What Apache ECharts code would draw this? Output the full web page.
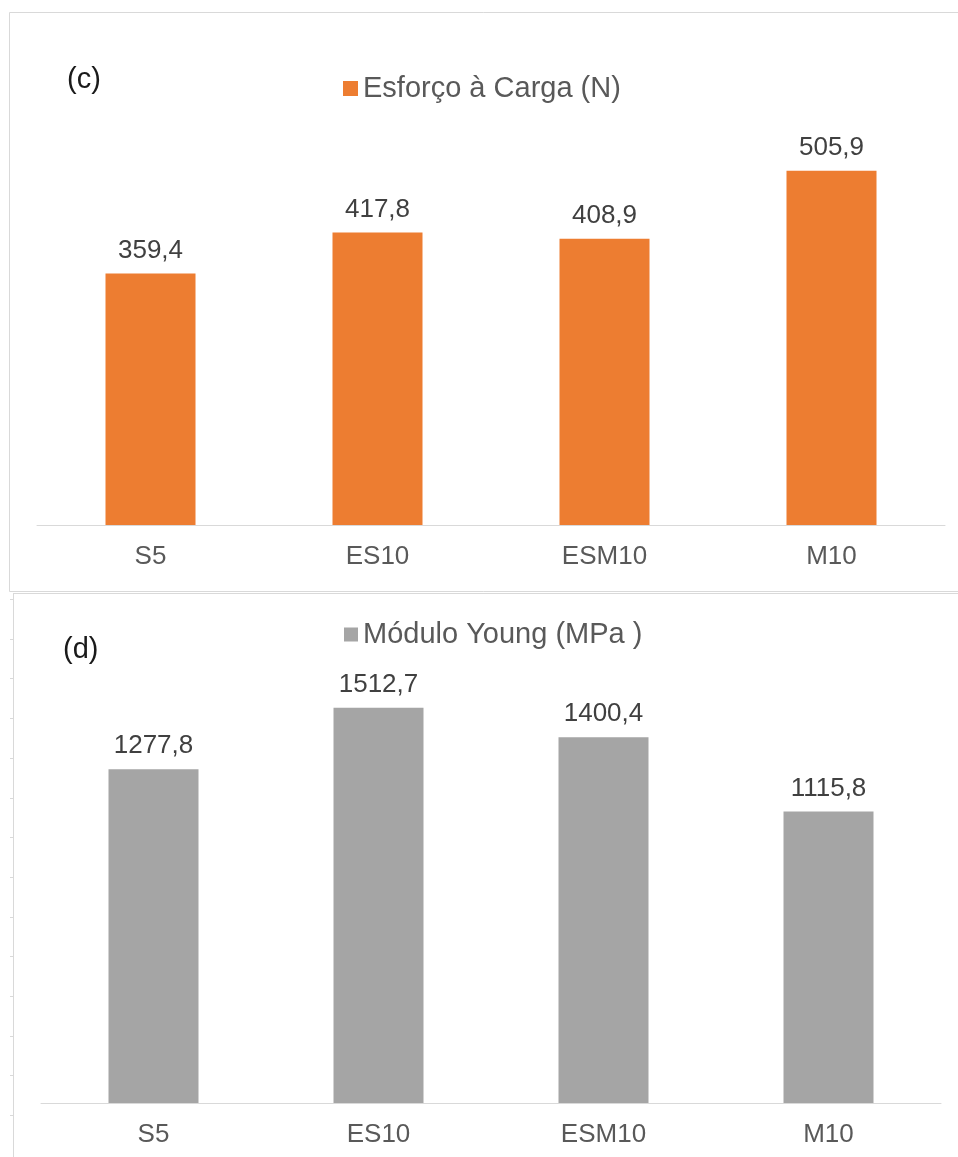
<!DOCTYPE html>
<html>
<head>
<meta charset="utf-8">
<script src="https://cdn.jsdelivr.net/npm/echarts@6/dist/echarts.min.js"></script>
<style>
  html, body { margin: 0; padding: 0; background: #ffffff; }
  #chart { width: 958px; height: 1157px; }
</style>
</head>
<body>
<div id="chart"></div>
<script>
// Sample groups shown on both panels
const categories = ['S5', 'ES10', 'ESM10', 'M10'];

// Panel (c): load effort in newtons
const loadName = 'Esforço à Carga (N)';
const loadValues = [359.4, 417.8, 408.9, 505.9];

// Panel (d): Young's modulus in MPa
const youngName = 'Módulo Young (MPa )';
const youngValues = [1277.8, 1512.7, 1400.4, 1115.8];

const panelLetters = ['(c)', '(d)'];

const FONT = '"Liberation Sans", Arial, sans-serif';
const TEXT = '#595959';
const LINE = '#d9d9d9';

const fmt = v => v.toFixed(1).replace('.', ',');

// Frame lines around the two panels, plus the small ruler ticks on the lower frame
const frame = [
  { type: 'polyline', shape: { points: [[958, 12.5], [9.5, 12.5], [9.5, 591.5], [958, 591.5]] },
    style: { stroke: LINE, fill: null, lineWidth: 1 } },
  { type: 'line', shape: { x1: 13.5, y1: 593, x2: 13.5, y2: 1157 },
    style: { stroke: LINE, lineWidth: 1 } },
  { type: 'line', shape: { x1: 14, y1: 593.5, x2: 958, y2: 593.5 },
    style: { stroke: LINE, lineWidth: 1 } }
];
for (let k = 0; k < 14; k++) {
  const y = Math.round(599 + 39.7 * k) + 0.5;
  frame.push({ type: 'line', shape: { x1: 10, y1: y, x2: 13, y2: y },
    style: { stroke: LINE, lineWidth: 1 } });
}

const chart = echarts.init(document.getElementById('chart'), null, { renderer: 'canvas' });

const catAxis = (gridIndex) => ({
  type: 'category',
  gridIndex,
  data: categories,
  axisLine: { show: true, lineStyle: { color: LINE, width: 1 } },
  axisTick: { show: false },
  axisLabel: { color: TEXT, fontSize: 26, fontFamily: FONT, margin: 19 }
});

const valAxis = (gridIndex, max) => ({
  type: 'value',
  gridIndex,
  min: 0,
  max,
  show: false,
  splitLine: { show: false }
});

const barLabel = {
  show: true,
  position: 'top',
  distance: 10,
  color: '#404040',
  fontSize: 26,
  fontFamily: FONT,
  formatter: p => fmt(p.value)
};

chart.setOption({
  animation: false,
  backgroundColor: '#ffffff',
  title: [
    { text: panelLetters[0], left: 67, top: 65, padding: 0,
      textStyle: { color: '#1a1a1a', fontSize: 29, fontWeight: 'normal', fontFamily: FONT } },
    { text: panelLetters[1], left: 63, top: 635, padding: 0,
      textStyle: { color: '#1a1a1a', fontSize: 29, fontWeight: 'normal', fontFamily: FONT } }
  ],
  legend: [
    { data: [loadName], left: 343, top: 74, padding: 0, itemWidth: 15, itemHeight: 15,
      icon: 'rect', textStyle: { color: TEXT, fontSize: 29, fontFamily: FONT } },
    { data: [youngName], left: 344, top: 620, padding: 0, itemWidth: 14, itemHeight: 14,
      icon: 'rect', textStyle: { color: TEXT, fontSize: 29, fontFamily: FONT } }
  ],
  grid: [
    { left: 37, right: 13, top: 105, height: 420 },
    { left: 41, right: 17, top: 685, height: 418 }
  ],
  xAxis: [catAxis(0), catAxis(1)],
  yAxis: [valAxis(0, 600), valAxis(1, 1600)],
  series: [
    { name: loadName, type: 'bar', xAxisIndex: 0, yAxisIndex: 0, data: loadValues,
      barWidth: 90, itemStyle: { color: '#ed7d31' }, label: barLabel },
    { name: youngName, type: 'bar', xAxisIndex: 1, yAxisIndex: 1, data: youngValues,
      barWidth: 90, itemStyle: { color: '#a5a5a5' }, label: barLabel }
  ],
  graphic: frame
});
</script>
</body>
</html>
